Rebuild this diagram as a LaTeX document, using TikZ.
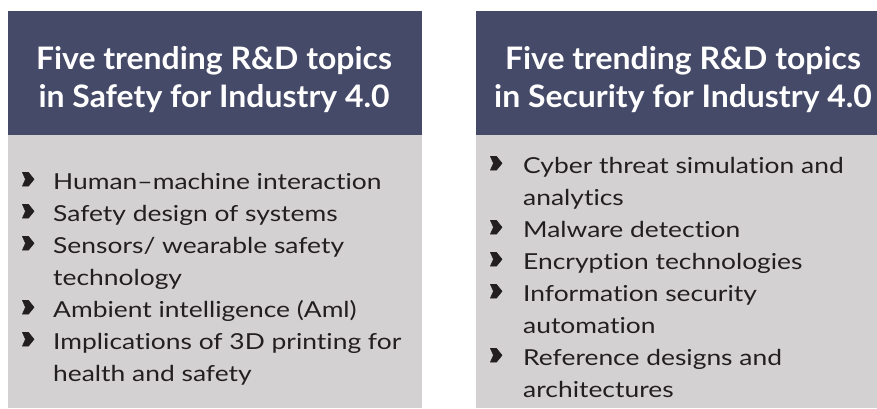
\documentclass[tikz,border=0pt]{standalone}
\usepackage{fontspec}
\setmainfont{Lato}
\newfontfamily\bodyfont[FakeStretch=1.2,Ligatures=NoCommon]{Lato}
\newfontfamily\titlefont[FakeStretch=1.03,Ligatures=NoCommon]{Lato}
\definecolor{hdr}{HTML}{464A69}
\definecolor{bodybg}{HTML}{D3D1D2}
\definecolor{txt}{HTML}{231F20}
\tikzset{
  title/.style={anchor=base,inner sep=0pt,text=white,font=\titlefont\fontsize{31}{36}\selectfont\bfseries},
  item/.style={anchor=base west,inner sep=0pt,text=txt,font=\bodyfont\fontsize{22}{26}\selectfont},
  bul/.style={fill=txt,draw=txt,line width=0.6pt,line join=miter},
}
\newcommand{\chev}[2]{\filldraw[bul] (#1,#2-16.5) -- ++(6,0) -- ++(5.5,6.75) -- ++(-5.5,6.75) -- ++(-6,0) -- ++(3,-6.75) -- cycle;}
\begin{document}
\begin{tikzpicture}[x=1pt,y=-1pt]
\useasboundingbox (0,0) rectangle (877,408);
\fill[white] (0,0) rectangle (877,408);
% left panel
\fill[hdr] (8,11) rectangle (422,135);
\fill[bodybg] (8,135) rectangle (422,408);
\node[title] (lt1) at (214,69) {Five trending R\&D topics};
\node[title] (lt2) at (214,107) {in Safety for Industry 4.0};
\node[item] (l1) at (53,189) {Human–machine interaction};
\node[item] (l2) at (53,221) {Safety design of systems};
\node[item] (l3) at (53,253) {Sensors/ wearable safety};
\node[item] (l3b) at (53,285) {technology};
\node[item] (l4) at (53,317) {Ambient intelligence (Aml)};
\node[item] (l5) at (53,349) {Implications of 3D printing for};
\node[item] (l5b) at (53,381) {health and safety};
\chev{22.5}{189}\chev{22.5}{221}\chev{22.5}{253}\chev{22.5}{317}\chev{22.5}{349}
% right panel
\fill[hdr] (476,11) rectangle (877,135);
\fill[bodybg] (476,135) rectangle (877,408);
\node[title] (rt1) at (683,69) {Five trending R\&D topics};
\node[title] (rt2) at (683,107) {in Security for Industry 4.0};
\node[item] (r1) at (523,173) {Cyber threat simulation and};
\node[item] (r1b) at (523,205) {analytics};
\node[item] (r2) at (523,237) {Malware detection};
\node[item] (r3) at (523,269) {Encryption technologies};
\node[item] (r4) at (523,301) {Information security};
\node[item] (r4b) at (523,333) {automation};
\node[item] (r5) at (523,365) {Reference designs and};
\node[item] (r5b) at (523,397) {architectures};
\chev{490.5}{173}\chev{490.5}{237}\chev{490.5}{269}\chev{490.5}{301}\chev{490.5}{365}
\end{tikzpicture}
\end{document}
